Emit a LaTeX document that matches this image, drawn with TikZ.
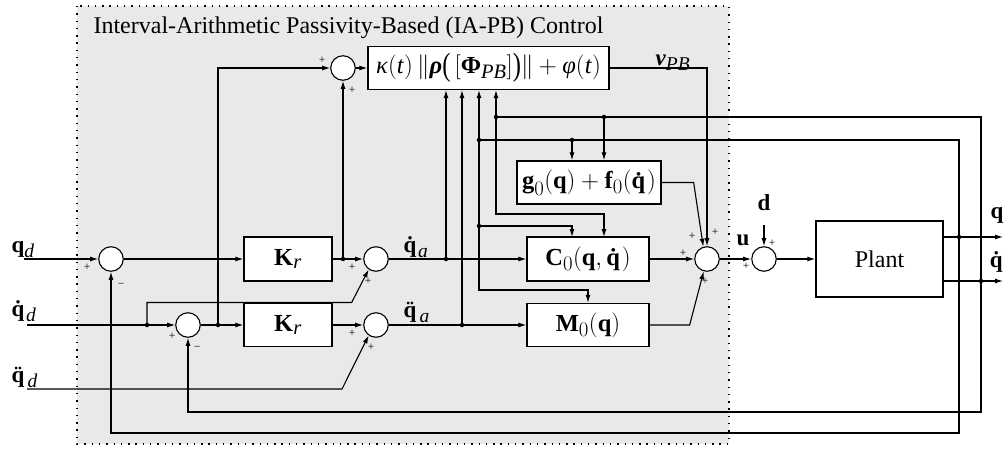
\documentclass[tikz,border=0pt]{standalone}
\usepackage{amsmath}
\usepackage{graphicx}
\usepackage{fontspec}
\setmainfont{Liberation Serif}
\usetikzlibrary{arrows.meta,calc}
\definecolor{bggray}{RGB}{233,233,233}
\DeclareMathSizes{24.5}{24.5}{20.5}{16}
\DeclareMathSizes{23}{23}{19.5}{15}
\newcommand{\vb}[1]{\text{\textbf{#1}}}
\newcommand{\ti}[1]{\text{\textit{#1}}}
\newcommand{\tbi}[1]{\text{\textbf{\textit{#1}}}}
\newcommand{\bigpar}[1]{\text{\raisebox{-2.5pt}{\scalebox{1}[1.32]{\mdseries\upshape #1}}}}
\begin{document}
\begin{tikzpicture}[x=1pt,y=-1pt,
  line width=1.1pt,
  >={Latex[length=8pt,width=5pt]},
  blk/.style={draw, line width=1.3pt, fill=white, inner sep=0pt, font=\fontsize{24.5}{28}\selectfont},
  sumc/.style={circle, draw, fill=white, minimum size=24.5pt, inner sep=0pt},
  sgn/.style={font=\fontsize{11.5}{12}\selectfont, inner sep=0pt},
  jdot/.style={circle, fill, inner sep=0pt, minimum size=4.5pt},
  lbl/.style={font=\fontsize{23}{26}\selectfont, inner sep=0pt}]
\useasboundingbox (0,0) rectangle (1006,449);
% shaded controller region
\draw[dash pattern=on 1.4pt off 5.9pt, line width=1.4pt, fill=bggray] (77,6) rectangle (729,444);
\node[font=\fontsize{24}{27}\selectfont, inner sep=0pt, anchor=base west] (title) at (93,34) {Interval-Arithmetic Passivity-Based (IA-PB) Control};

% summing junctions
\node[sumc] (s1) at (111,259) {};
\node[sumc] (s2) at (188,325) {};
\node[sumc] (s3) at (376,259) {};
\node[sumc] (s4) at (376,325) {};
\node[sumc] (sTop) at (343,68) {};
\node[sumc] (sMain) at (707,259) {};
\node[sumc] (sD) at (764,259) {};

% blocks
\node[blk, minimum width=88pt, minimum height=44pt] (kr1) at (288,259) {$\vb{K}_{\ti{r}}$};
\node[blk, minimum width=88pt, minimum height=43pt] (kr2) at (288,325) {$\vb{K}_{\ti{r}}$};
\node[blk, minimum width=241pt, minimum height=43pt] (kbox) at (488.5,68) {$\ti{κ}(\ti{t})\,\|\tbi{ρ}\bigpar{(}\,[\vb{Φ}_{\ti{PB}}]\bigpar{)}\|+\ti{φ}(\ti{t})$};
\node[blk, minimum width=144pt, minimum height=43pt] (G) at (589,182.5) {$\vb{g}_0(\vb{q})+\vb{f}_0(\vb{\.q})$};
\node[blk, minimum width=122pt, minimum height=44pt] (C0) at (588,259) {$\vb{C}_0(\vb{q},\vb{\.q})$};
\node[blk, minimum width=122pt, minimum height=43pt] (M0) at (588,325) {$\vb{M}_0(\vb{q})$};
\node[blk, font=\fontsize{24}{27}\selectfont, minimum width=127pt, minimum height=76pt] (plant) at (879.5,259) {Plant};

% labels
\node[lbl, anchor=base west] (lqd) at (11,252) {$\vb{q}_{\ti{d}}$};
\node[lbl, anchor=base west] (lqdd) at (11,316) {$\vb{\.q}_{\ti{d}}$};
\node[lbl, anchor=base west] (lqddd) at (11,382) {$\vb{\"q}_{\ti{d}}$};
\node[lbl, anchor=base west] (lqa) at (403,252) {$\vb{\.q}_{\ti{a}}$};
\node[lbl, anchor=base west] (lqaa) at (403,317) {$\vb{\"q}_{\ti{a}}$};
\node[lbl, anchor=base west] (lnu) at (655,66) {$\tbi{ν}_{\ti{PB}}$};
\node[lbl] (lu) at (743,240) {$\vb{u}$};
\node[lbl] (ld) at (764,203) {$\vb{d}$};
\node[lbl] (lq) at (997,215) {$\vb{q}$};
\node[lbl] (lqdot) at (997,262) {$\vb{\.q}$};

% signs
\node[sgn] (p1) at (87,267) {+};
\node[sgn] (m1) at (121,285) {−};
\node[sgn] (p2) at (172,336) {+};
\node[sgn] (m2) at (197,348) {−};
\node[sgn] (p3a) at (352,267) {+};
\node[sgn] (p3b) at (368,281) {+};
\node[sgn] (p4a) at (352,333) {+};
\node[sgn] (p4b) at (371,347) {+};
\node[sgn] (pTa) at (322,60) {+};
\node[sgn] (pTb) at (352,90) {+};
\node[sgn] (pMa) at (692,236) {+};
\node[sgn] (pMb) at (715,232) {+};
\node[sgn] (pMc) at (683,253) {+};
\node[sgn] (pMd) at (705,281) {+};
\node[sgn] (pDa) at (746,266) {+};
\node[sgn] (pDb) at (772,243) {+};

% junction dots
\node[jdot] (j147) at (147,325) {};
\node[jdot] (j218) at (218,325) {};
\node[jdot] (j343) at (343,259) {};
\node[jdot] (j446) at (446,259) {};
\node[jdot] (j462) at (462,325) {};
\node[jdot] (jq) at (959,237) {};
\node[jdot] (jqd) at (981,281) {};
\node[jdot] (j479) at (479,140) {};
\node[jdot] (j479b) at (479,226) {};
\node[jdot] (j496) at (496,117) {};
\node[jdot] (j572) at (572,140) {};
\node[jdot] (j604) at (604,117) {};

% free ends
\coordinate (qdin) at (24,259);
\coordinate (qddin) at (27,325);
\coordinate (qdddin) at (27,389);
\coordinate (qout) at (1003,237);
\coordinate (qdout) at (1003,281);
\coordinate (dtop) at (764,225);
\coordinate (c0a) at (572,237);
\coordinate (c0b) at (604,237);

% connectors: reference side
\draw[->] (qdin) -- (s1);
\draw[->] (s1) -- (kr1);
\draw[->] (kr1) -- (s3);
\draw[->] (j343.center) -- (sTop);
\draw[->] (qddin) -- (s2);
\draw[->] (j147.center) |- ($(s3.235)+(-17,33)$) -- (s3.235);
\draw[->] (s2) -- (kr2);
\draw[->] (j218.center) |- (sTop.west);
\draw[->] (kr2) -- (s4);
\draw[->] (qdddin) -- ++(315,0) -- (s4.235);
\draw[->] (sTop) -- (kbox);
% accelerations to model blocks
\draw[->] (s3) -- (C0);
\draw[->] (s4) -- (M0);
\draw[->] (j446.center) -- (j446.center |- kbox.south);
\draw[->] (j462.center) -- (j462.center |- kbox.south);
% outputs to main sum
\draw[->] (kbox.east) -| (sMain.north);
\draw[->] (G.east) -- ++(32,0) -- (sMain.107);
\draw[->] (C0) -- (sMain);
\draw[->] (M0.east) -- ++(40,0) -- (sMain.255);
\draw[->] (sMain) -- (sD);
\draw[->] (dtop) -- (sD);
\draw[->] (sD) -- (plant);
% plant outputs
\draw[->] (plant.east |- qout) -- (qout);
\draw[->] (plant.east |- qdout) -- (qdout);
% q feedback
\draw (jq.center) |- (j479.center);
\draw[->] (j479.center) -- (j479.center |- kbox.south);
\draw[->] (j479.center) -- ++(0,150) -| (M0.north);
\draw[->] (j479b.center) -| (c0a);
\draw[->] (j572.center) -- (j572.center |- G.north);
\draw[->] (jq.center) -- ++(0,196) -| (s1.south);
% qdot feedback
\draw (jqd.center) |- (j496.center);
\draw[->] (j496.center) -- (j496.center |- kbox.south);
\draw[->] (j496.center) -- ++(0,97) -| (c0b);
\draw[->] (j604.center) -- (j604.center |- G.north);
\draw[->] (jqd.center) -- ++(0,131) -| (s2.south);
\end{tikzpicture}
\end{document}
